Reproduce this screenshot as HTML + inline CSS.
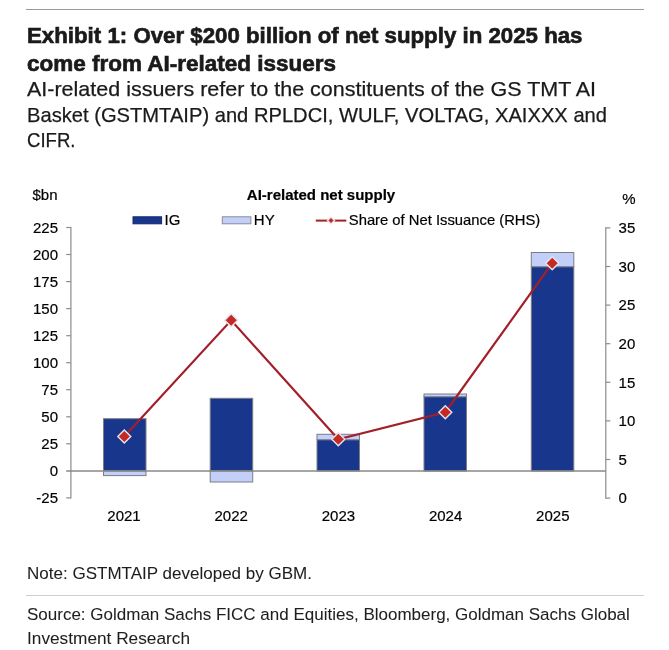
<!DOCTYPE html>
<html>
<head>
<meta charset="utf-8">
<style>
html,body{margin:0;padding:0;background:#fff;}
body{width:669px;height:650px;overflow:hidden;}
svg{display:block;will-change:transform;}
.h{font-family:"Liberation Sans",Arial,sans-serif;fill:#1a1a1a;stroke:#1a1a1a;stroke-width:0.25px;}
.hb{stroke-width:0.65px;}
.hn{stroke-width:0.05px;fill:#1e1e1e;}
.c{font-family:"Liberation Sans",Arial,sans-serif;fill:#000;font-size:15px;stroke:#000;stroke-width:0.2px;}
</style>
</head>
<body>
<svg width="669" height="650" viewBox="0 0 669 650">
<!-- top rule -->
<rect x="26" y="9" width="618" height="1" fill="#9a9a9a"/>
<!-- title -->
<text class="h hb" x="27" y="43.1" font-size="22" font-weight="bold" textLength="555.5" lengthAdjust="spacingAndGlyphs">Exhibit 1: Over $200 billion of net supply in 2025 has</text>
<text class="h hb" x="27" y="71.2" font-size="22" font-weight="bold" textLength="309" lengthAdjust="spacingAndGlyphs">come from AI-related issuers</text>
<!-- subtitle -->
<text class="h" x="27" y="96" font-size="21" textLength="569" lengthAdjust="spacingAndGlyphs">AI-related issuers refer to the constituents of the GS TMT AI</text>
<text class="h" x="27" y="121.9" font-size="21" textLength="580" lengthAdjust="spacingAndGlyphs">Basket (GSTMTAIP) and RPLDCI, WULF, VOLTAG, XAIXXX and</text>
<text class="h" x="27" y="146.9" font-size="21" textLength="48.5" lengthAdjust="spacingAndGlyphs">CIFR.</text>

<!-- chart headings -->
<text class="c" x="32.5" y="199.9">$bn</text>
<text class="c" x="321" y="199.6" font-weight="bold" text-anchor="middle">AI-related net supply</text>
<text class="c" x="635.5" y="204" text-anchor="end" font-size="16">%</text>

<!-- legend -->
<rect x="133" y="216.8" width="28.6" height="7" fill="#17368c" stroke="#15286c" stroke-width="1"/>
<text class="c" x="164.5" y="224.7">IG</text>
<rect x="222.3" y="216.8" width="28.6" height="7" fill="#c2cff8" stroke="#8c8c9c" stroke-width="1"/>
<text class="c" x="253.8" y="224.7">HY</text>
<line x1="315.8" y1="220.6" x2="346.3" y2="220.6" stroke="#a3202a" stroke-width="2"/>
<path d="M331 217.1 L334.5 220.6 L331 224.1 L327.5 220.6 Z" fill="#c42a22" stroke="#f0e8ec" stroke-width="1.4"/>
<text class="c" x="348.8" y="224.9" textLength="191.5" lengthAdjust="spacingAndGlyphs">Share of Net Issuance (RHS)</text>

<!-- left axis -->
<g stroke="#8c8c8c" stroke-width="1.2" fill="none">
<line x1="70.9" y1="226.9" x2="70.9" y2="498.5"/>
<line x1="66.2" y1="227.5" x2="70.9" y2="227.5"/>
<line x1="66.2" y1="254.5" x2="70.9" y2="254.5"/>
<line x1="66.2" y1="281.6" x2="70.9" y2="281.6"/>
<line x1="66.2" y1="308.6" x2="70.9" y2="308.6"/>
<line x1="66.2" y1="335.7" x2="70.9" y2="335.7"/>
<line x1="66.2" y1="362.7" x2="70.9" y2="362.7"/>
<line x1="66.2" y1="389.7" x2="70.9" y2="389.7"/>
<line x1="66.2" y1="416.8" x2="70.9" y2="416.8"/>
<line x1="66.2" y1="443.8" x2="70.9" y2="443.8"/>
<line x1="66.2" y1="497.9" x2="70.9" y2="497.9"/>
<!-- right axis -->
<line x1="605.8" y1="227.3" x2="605.8" y2="498.7"/>
<line x1="605.8" y1="498.1" x2="610.3" y2="498.1"/>
<line x1="605.8" y1="459.5" x2="610.3" y2="459.5"/>
<line x1="605.8" y1="420.9" x2="610.3" y2="420.9"/>
<line x1="605.8" y1="382.3" x2="610.3" y2="382.3"/>
<line x1="605.8" y1="343.7" x2="610.3" y2="343.7"/>
<line x1="605.8" y1="305.1" x2="610.3" y2="305.1"/>
<line x1="605.8" y1="266.5" x2="610.3" y2="266.5"/>
<line x1="605.8" y1="227.9" x2="610.3" y2="227.9"/>
</g>

<!-- left axis labels -->
<g class="c" text-anchor="end">
<text x="58" y="232.7">225</text>
<text x="58" y="259.7">200</text>
<text x="58" y="286.8">175</text>
<text x="58" y="313.8">150</text>
<text x="58" y="340.9">125</text>
<text x="58" y="367.9">100</text>
<text x="58" y="394.9">75</text>
<text x="58" y="422.0">50</text>
<text x="58" y="449.0">25</text>
<text x="58" y="476.1">0</text>
<text x="58" y="503.1">-25</text>
</g>
<!-- right axis labels -->
<g class="c">
<text x="618.6" y="503.3">0</text>
<text x="618.6" y="464.7">5</text>
<text x="618.6" y="426.1">10</text>
<text x="618.6" y="387.5">15</text>
<text x="618.6" y="348.9">20</text>
<text x="618.6" y="310.3">25</text>
<text x="618.6" y="271.7">30</text>
<text x="618.6" y="233.1">35</text>
</g>

<!-- bars -->
<g stroke="#7d7d86" stroke-width="1">
<rect x="103.5" y="418.7" width="42.5" height="52.3" fill="#17368c"/>
<rect x="103.5" y="471" width="42.5" height="4.6" fill="#c2cff8"/>
<rect x="210.2" y="398.3" width="42.5" height="72.7" fill="#17368c"/>
<rect x="210.2" y="471" width="42.5" height="11" fill="#c2cff8"/>
<rect x="317" y="439.7" width="42.5" height="31.3" fill="#17368c"/>
<rect x="317" y="434.3" width="42.5" height="5.4" fill="#c2cff8"/>
<rect x="424" y="396.7" width="42.5" height="74.3" fill="#17368c"/>
<rect x="424" y="394" width="42.5" height="2.7" fill="#c2cff8"/>
<rect x="531.3" y="266.7" width="42.5" height="204.3" fill="#17368c"/>
<rect x="531.3" y="252.5" width="42.5" height="14.2" fill="#c2cff8"/>
</g>
<!-- zero line -->
<line x1="66.2" y1="471" x2="605.8" y2="471" stroke="#888" stroke-width="1.4"/>

<!-- share line -->
<polyline points="124.3,436.4 231.2,320.3 338.3,439.2 445.3,412.2 552.2,263.2" fill="none" stroke="#a3202a" stroke-width="2.2"/>
<g fill="#c42a22" stroke="#e4e4f2" stroke-width="1.4">
<path d="M124.3 429.9 L130.8 436.4 L124.3 442.9 L117.8 436.4 Z"/>
<path d="M231.2 313.8 L237.7 320.3 L231.2 326.8 L224.7 320.3 Z"/>
<path d="M338.3 432.7 L344.8 439.2 L338.3 445.7 L331.8 439.2 Z"/>
<path d="M445.3 405.7 L451.8 412.2 L445.3 418.7 L438.8 412.2 Z"/>
<path d="M552.2 256.7 L558.7 263.2 L552.2 269.7 L545.7 263.2 Z"/>
</g>

<!-- x labels -->
<g class="c" text-anchor="middle">
<text x="124" y="520.8">2021</text>
<text x="231.2" y="520.8">2022</text>
<text x="338.4" y="520.8">2023</text>
<text x="445.6" y="520.8">2024</text>
<text x="552.8" y="520.8">2025</text>
</g>

<!-- note -->
<text class="h hn" x="27" y="578.5" font-size="17" textLength="285" lengthAdjust="spacingAndGlyphs">Note: GSTMTAIP developed by GBM.</text>
<rect x="26" y="595" width="618" height="1" fill="#cfcfcf"/>
<text class="h hn" x="27" y="620.1" font-size="17">Source: Goldman Sachs FICC and Equities, Bloomberg, Goldman Sachs Global</text>
<text class="h hn" x="27" y="644" font-size="17" textLength="163" lengthAdjust="spacingAndGlyphs">Investment Research</text>
</svg>
</body>
</html>
